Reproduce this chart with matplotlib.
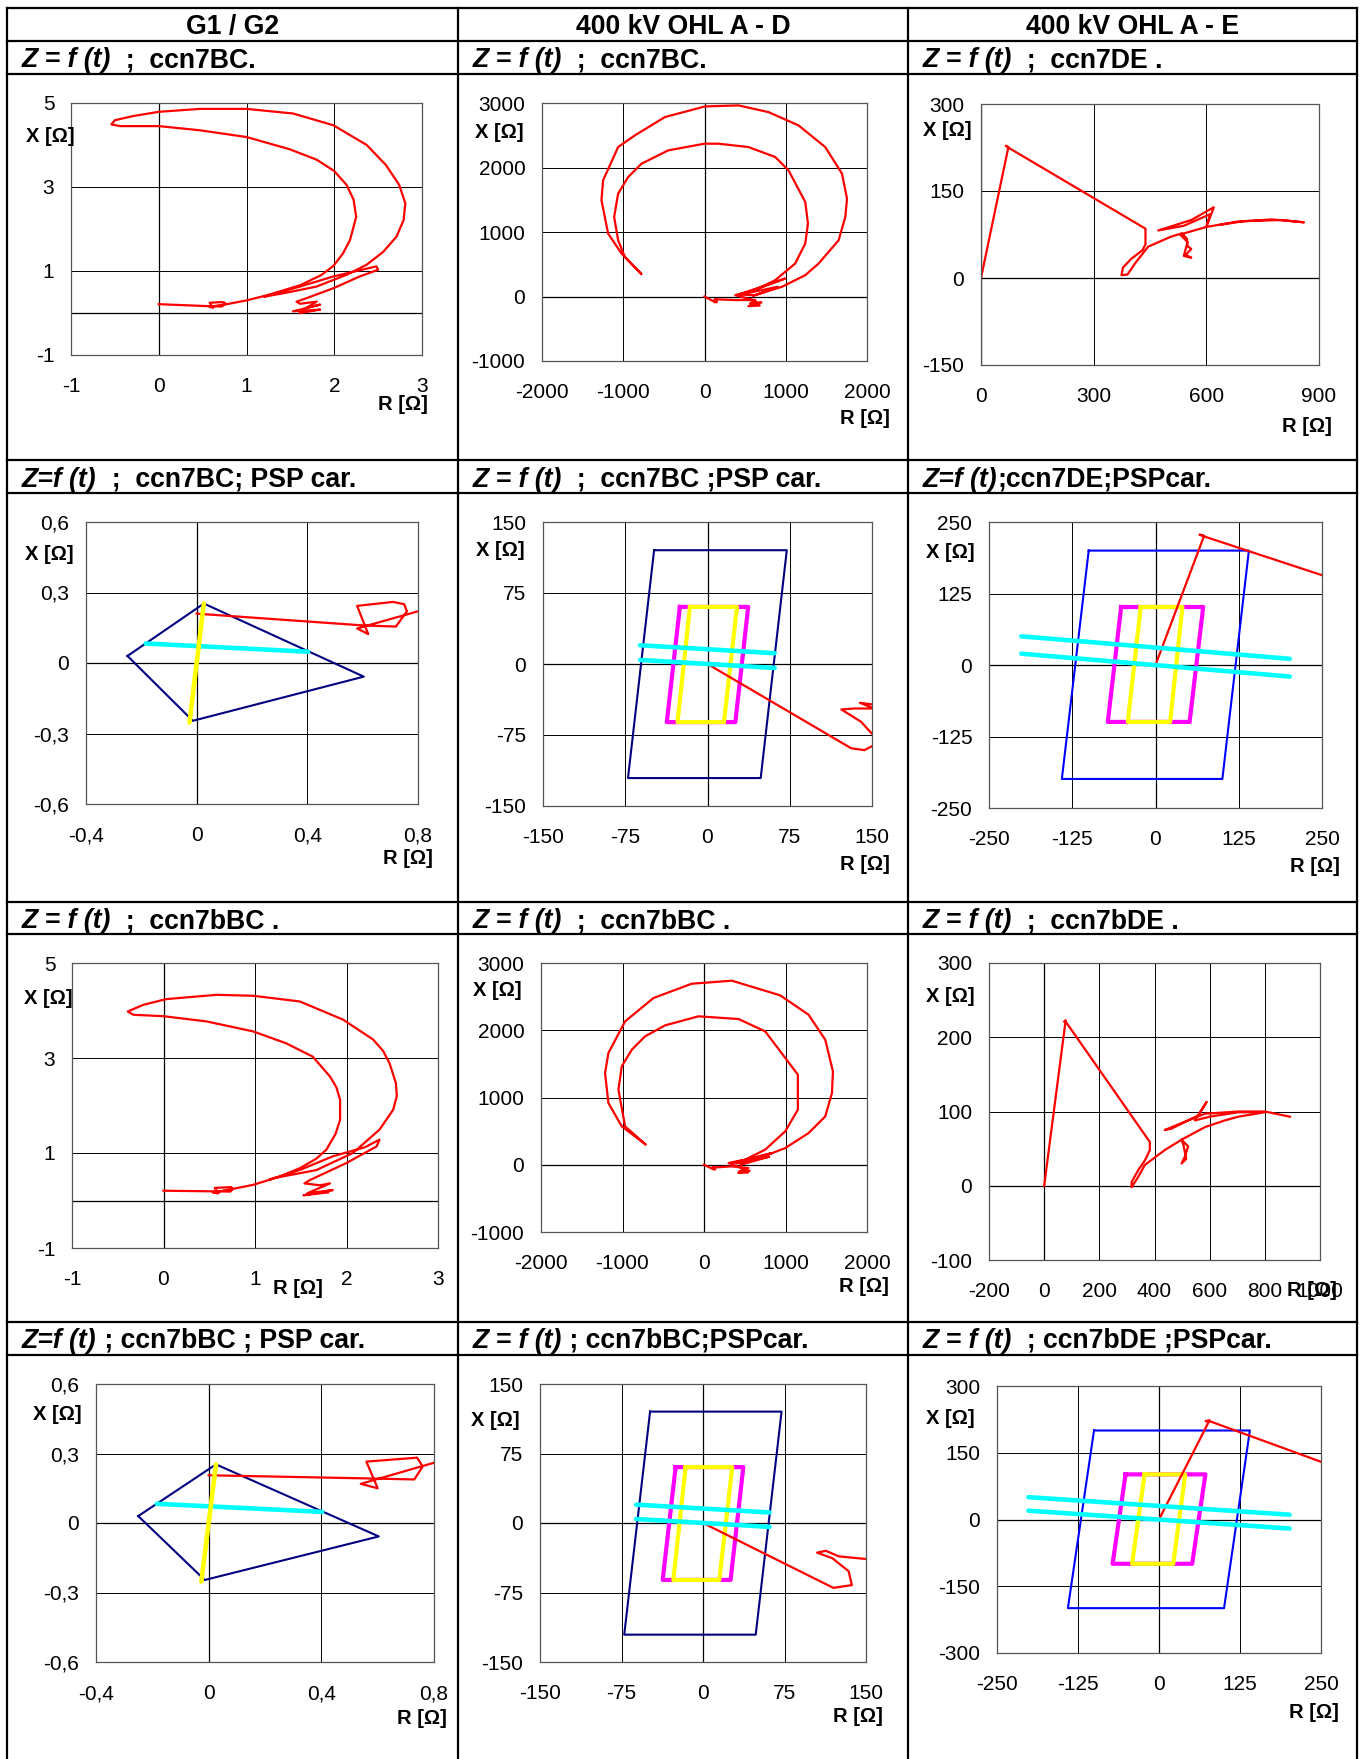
import matplotlib
matplotlib.use('Agg')
import matplotlib.pyplot as plt
from matplotlib.lines import Line2D

plt.rcParams['font.family'] = ['Liberation Sans', 'DejaVu Sans']

W, H = 1360, 1759
fig = plt.figure(figsize=(W / 100, H / 100), dpi=100)

# ---------------------------------------------------------------- data
col_headers = ["G1 / G2", "400 kV OHL A - D", "400 kV OHL A - E"]

sub_italic = [["Z = f (t)", "Z = f (t)", "Z = f (t)"],
              ["Z=f (t)", "Z = f (t)", "Z=f (t)"],
              ["Z = f (t)", "Z = f (t)", "Z = f (t)"],
              ["Z=f (t)", "Z = f (t)", "Z = f (t)"]]
sub_rest = [["  ;  ccn7BC.", "  ;  ccn7BC.", "  ;  ccn7DE ."],
            ["  ;  ccn7BC; PSP car.", "  ;  ccn7BC ;PSP car.", ";ccn7DE;PSPcar."],
            ["  ;  ccn7bBC .", "  ;  ccn7bBC .", "  ;  ccn7bDE ."],
            [" ; ccn7bBC ; PSP car.", " ; ccn7bBC;PSPcar.", "  ; ccn7bDE ;PSPcar."]]

# trajectories (R, X) in ohm
g_bc_R = [0.00, 0.30, 0.60, 0.72, 0.76, 0.75, 0.71, 0.58, 0.62, 0.58, 0.80, 1.00, 1.23, 1.61, 1.85,
          1.99, 2.10, 2.18, 2.25, 2.22, 2.14, 2.00, 1.80, 1.49, 1.00, 0.47, 0.00, -0.44, -0.54,
          -0.50, -0.29, 0.00, 0.47, 1.00, 1.53, 1.99, 2.37, 2.59, 2.74, 2.81, 2.79, 2.71, 2.56,
          2.37, 2.14, 1.80, 1.42, 1.20, 1.61, 1.99, 2.48, 2.50, 2.29, 1.99, 1.68, 1.57, 1.61,
          1.80, 1.68, 1.84, 1.53, 1.84, 1.61]
g_bc_X = [0.21, 0.185, 0.16, 0.155, 0.22, 0.25, 0.26, 0.243, 0.123, 0.147, 0.22, 0.30, 0.42, 0.66, 0.90,
          1.12, 1.42, 1.74, 2.29, 2.70, 3.05, 3.38, 3.65, 3.90, 4.19, 4.35, 4.45, 4.45, 4.49,
          4.59, 4.69, 4.79, 4.86, 4.86, 4.75, 4.47, 4.00, 3.52, 3.05, 2.61, 2.21, 1.82, 1.46,
          1.15, 0.91, 0.63, 0.47, 0.39, 0.63, 0.87, 1.11, 1.03, 0.87, 0.59, 0.35, 0.27, 0.22,
          0.27, 0.12, 0.20, 0.04, 0.08, 0.00]

g_bbc_R = [0.00, 0.54, 0.73, 0.76, 0.74, 0.56, 0.60, 0.54, 0.80, 0.98, 1.25, 1.49, 1.67, 1.78, 1.88,
           1.93, 1.93, 1.89, 1.82, 1.63, 1.34, 0.98, 0.47, 0.00, -0.33, -0.39, -0.22, 0.03, 0.58,
           0.98, 1.49, 1.96, 2.29, 2.40, 2.47, 2.54, 2.55, 2.51, 2.36, 2.07, 1.67, 1.20, 1.16, 1.50,
           1.85, 2.20, 2.36, 2.33, 2.00, 1.60, 1.54, 1.71, 1.82, 1.57, 1.85, 1.53, 1.80]
g_bbc_X = [0.206, 0.193, 0.188, 0.244, 0.282, 0.265, 0.150, 0.169, 0.26, 0.33, 0.49, 0.68, 0.88, 1.07, 1.40,
           1.70, 2.12, 2.38, 2.61, 3.03, 3.31, 3.56, 3.77, 3.88, 3.91, 3.98, 4.12, 4.24, 4.33,
           4.31, 4.19, 3.81, 3.39, 3.15, 2.89, 2.47, 2.20, 1.91, 1.49, 1.00, 0.64, 0.47, 0.44, 0.65,
           0.93, 1.12, 1.28, 1.14, 0.79, 0.43, 0.36, 0.32, 0.36, 0.15, 0.22, 0.11, 0.17]

ad_bc_R = [0, 131, 143, 153, 151, 140, 122, 134, 152, 139, 165, 380, 620, 560, 700, 540, 680, 620,
           377, 623, 870, 1116, 1240, 1273, 1240, 1034, 870, 541, 171, 0, -446, -775, -939, -1063,
           -1112, -1063, -980, -775, -1021, -1186, -1268, -1248, -1063, -857, -487, 6, 417, 787,
           1157, 1486, 1692, 1754, 1733, 1651, 1404, 1240, 952, 623, 420, 993, 500, 900, 600]
ad_bc_X = [0, -89, -91, -85, -75, -61, -48, -47, -47, -41, -45, -55, -55, -110, -90, -150, -140, -60,
           21, 98, 253, 511, 821, 1130, 1466, 1956, 2163, 2317, 2369, 2369, 2266, 2059, 1853, 1595,
           1234, 872, 614, 346, 666, 975, 1492, 1801, 2317, 2498, 2782, 2947, 2963, 2859,
           2653, 2317, 1905, 1517, 1234, 872, 511, 330, 150, 21, 30, 279, 46, 150, 10]

ad_bbc_R = [0, 120, 137, 134, 119, 105, 113, 125, 151, 342, 546, 430, 560, 420, 540, 480, 301, 506,
            751, 997, 1152, 1152, 751, 424, -68, -477, -723, -886, -1009, -1050, -968, -714, -1009,
            -1173, -1214, -1173, -968, -620, -150, 342, 935, 1283, 1488, 1582, 1570, 1488, 1283, 997,
            628, 342, 833, 400, 800, 450]
ad_bbc_X = [0, -70, -67, -52, -38, -32, -30, -36, -39, -24, -50, -100, -90, -120, -115, -60, 26, 76,
            225, 497, 819, 1339, 1983, 2167, 2207, 2073, 1909, 1711, 1463, 1116, 571, 299, 571,
            918, 1364, 1661, 2132, 2479, 2692, 2737, 2519, 2231, 1859, 1388, 1066, 719, 471, 248,
            76, 26, 174, 20, 120, 0]

ae_de_R = [0, 73, 66, 75, 438, 438, 430, 400, 378, 374, 390, 410, 445, 505, 535, 548, 550, 560, 545,
           560, 540, 550, 530, 600, 620, 560, 472, 540, 610, 600, 680, 775, 860, 800, 700, 640]
ae_de_X = [0, 226, 228, 224, 85, 58, 48, 33, 18, 5, 6, 25, 54, 71, 77, 68, 55, 50, 40,
           35, 38, 62, 75, 88, 122, 100, 82, 90, 110, 88, 97, 101, 96, 100, 98, 92]

ae_bde_R = [0, 78, 72, 80, 383, 383, 365, 341, 317, 317, 341, 365, 437, 498, 522, 510, 498, 515, 505,
            498, 583, 655, 704, 800, 704, 600, 546, 589, 560, 462, 437, 522, 583, 704, 800, 891]
ae_bde_X = [0, 223, 221, 220, 59, 48, 34, 21, 5, -2, 12, 28, 48, 62, 53, 39, 30, 36, 55,
            62, 79, 88, 93, 99, 99, 93, 88, 113, 95, 77, 75, 88, 97, 100, 100, 93]

# protection characteristics
g_quad_R = [-0.25, 0.026, 0.604, -0.014, -0.25]
g_quad_X = [0.03, 0.253, -0.058, -0.246, 0.03]
g_yel_R = [0.026, -0.026]
g_yel_X = [0.253, -0.253]
g_cyan_R = [-0.184, 0.403]
g_cyan_X = [0.083, 0.048]

ad_z2_R = [-48.7, 72.3, 48.5, -72.5, -48.7]
ad_z2_X = [120.2, 120.2, -120.5, -120.5, 120.2]
ad_mag_R = [-25.2, 37.1, 25.4, -37.1, -25.2]
ad_mag_X = [60.3, 60.3, -61.4, -61.4, 60.3]
ad_yel_R = [-16.0, 26.9, 15.0, -27.3, -16.0]
ad_yel_X = [60.3, 60.3, -61.4, -61.4, 60.3]
ad_cy1_R = [-61.5, 61.2]
ad_cy1_X = [19.8, 11.4]
ad_cy2_R = [-61.5, 61.2]
ad_cy2_X = [4.3, -4.2]

ae_z2_R = [-100.3, 140.2, 100.4, -140.6, -100.3]
ae_z2_X = [200.0, 200.0, -199.2, -199.2, 200.0]
ae_mag_R = [-51.6, 71.6, 51.2, -71.6, -51.6]
ae_mag_X = [101.4, 101.4, -99.5, -99.5, 101.4]
ae_yel_R = [-22.2, 40.4, 22.0, -41.6, -22.2]
ae_yel_X = [101.4, 101.4, -99.5, -99.5, 101.4]
ae_cy1_R = [-201.5, 201.5]
ae_cy1_X = [50.2, 10.8]
ae_cy2_R = [-201.5, 201.5]
ae_cy2_X = [19.8, -20.2]

# axis ticks
t_g_x = [-1, 0, 1, 2, 3];            t_g_y = [-1, 1, 3, 5]
t_ad_x = [-2000, -1000, 0, 1000, 2000]; t_ad_y = [-1000, 0, 1000, 2000, 3000]
t_ae_x = [0, 300, 600, 900];          t_ae_y = [-150, 0, 150, 300]
t_ae2_x = [-200, 0, 200, 400, 600, 800, 1000]; t_ae2_y = [-100, 0, 100, 200, 300]
t_gp_x = [-0.4, 0, 0.4, 0.8];         t_gp_y = [-0.6, -0.3, 0, 0.3, 0.6]
l_gp_x = ["-0,4", "0", "0,4", "0,8"];  l_gp_y = ["-0,6", "-0,3", "0", "0,3", "0,6"]
t_adp = [-150, -75, 0, 75, 150]
t_aep = [-250, -125, 0, 125, 250]
t_aep2_y = [-300, -150, 0, 150, 300]

# ---------------------------------------------------------------- layout helpers
def fx(x):
    return x / W


def fy(y):
    return 1 - y / H


def hline(y, x0=7, x1=1357):
    fig.add_artist(Line2D([fx(x0), fx(x1)], [fy(y), fy(y)], color='black', lw=1.6,
                          transform=fig.transFigure))


def vline(x, y0=8, y1=1759):
    fig.add_artist(Line2D([fx(x), fx(x)], [fy(y0), fy(y1)], color='black', lw=1.6,
                          transform=fig.transFigure))


for y in [8, 41, 74, 460, 493, 902, 934, 1322, 1355]:
    hline(y)
for x in [7, 458, 908, 1357]:
    vline(x)

TFS = 19.2
col_x = [7, 458, 908, 1357]
for i, h in enumerate(col_headers):
    fig.text(fx((col_x[i] + col_x[i + 1]) / 2), fy(34), h, ha='center', va='baseline',
             fontsize=TFS, fontweight='bold')

renderer = fig.canvas.get_renderer()
sub_base = [67, 487, 928, 1348]
sub_x = [22, 473, 923]
for r in range(4):
    for c in range(3):
        t1 = fig.text(fx(sub_x[c]), fy(sub_base[r]), sub_italic[r][c], ha='left', va='baseline',
                      fontsize=TFS, fontweight='bold', fontstyle='italic')
        bb = t1.get_window_extent(renderer=renderer)
        fig.text(bb.x1 / W, fy(sub_base[r]), sub_rest[r][c], ha='left', va='baseline',
                 fontsize=TFS, fontweight='bold')


def make_ax(box, xlim, ylim, xt, yt, xl=None, yl=None, xlab=(0, 0), ylab=(0, 0)):
    l, t, r, b = box
    ax = fig.add_axes([fx(l), fy(b), (r - l) / W, (b - t) / H])
    ax.set_xlim(*xlim)
    ax.set_ylim(*ylim)
    ax.set_xticks(xt)
    ax.set_yticks(yt)
    ax.set_xticklabels(xl if xl is not None else [str(v) for v in xt])
    ax.set_yticklabels(yl if yl is not None else [str(v) for v in yt])
    ax.tick_params(axis='x', length=0, pad=16, labelsize=15)
    ax.tick_params(axis='y', length=0, pad=12, labelsize=15)
    ax.grid(True, color='black', lw=0.7)
    ax.set_axisbelow(True)
    for s in ax.spines.values():
        s.set_color('#555555')
        s.set_linewidth(0.9)
    ax.axhline(0, color='black', lw=0.9, zorder=0.5)
    ax.axvline(0, color='black', lw=0.9, zorder=0.5)
    fig.text(fx(ylab[0]), fy(ylab[1]), "X [Ω]", ha='center', va='center', fontsize=14.5,
             fontweight='bold')
    fig.text(fx(xlab[0]), fy(xlab[1]), "R [Ω]", ha='center', va='center', fontsize=14.5,
             fontweight='bold')
    return ax


RED = dict(color='#FF0000', lw=1.6)

# Row 1
ax = make_ax((71, 103, 422, 355), (-1, 3), (-1, 5), t_g_x, t_g_y, xlab=(403, 405), ylab=(50, 137))
ax.plot(g_bc_R, g_bc_X, **RED)
ax = make_ax((542, 103, 867, 361), (-2000, 2000), (-1000, 3000), t_ad_x, t_ad_y,
             xlab=(865, 418), ylab=(499, 133))
ax.plot(ad_bc_R, ad_bc_X, **RED)
ax = make_ax((981, 104, 1319, 365), (0, 900), (-150, 300), t_ae_x, t_ae_y,
             xlab=(1307, 427), ylab=(947, 130))
ax.plot(ae_de_R, ae_de_X, **RED)

# Row 2
ax = make_ax((86, 522, 418, 804), (-0.4, 0.8), (-0.6, 0.6), t_gp_x, t_gp_y, l_gp_x, l_gp_y,
             xlab=(408, 859), ylab=(49, 555))
ax.plot(g_quad_R, g_quad_X, color='#000080', lw=1.5)
ax.plot(g_bc_R, g_bc_X, **RED)
ax.plot(g_cyan_R, g_cyan_X, color='#00FFFF', lw=3.3, solid_capstyle='round')
ax.plot(g_yel_R, g_yel_X, color='#FFFF00', lw=3.3, solid_capstyle='round')

ax = make_ax((543, 522, 872, 806), (-150, 150), (-150, 150), t_adp, t_adp,
             xlab=(865, 865), ylab=(500, 550))
ax.plot(ad_z2_R, ad_z2_X, color='#000080', lw=1.5)
ax.plot(ad_mag_R, ad_mag_X, color='#FF00FF', lw=3.0)
ax.plot(ad_yel_R, ad_yel_X, color='#FFFF00', lw=3.0)
ax.plot(ad_bc_R, ad_bc_X, **RED)
ax.plot(ad_cy1_R, ad_cy1_X, color='#00FFFF', lw=3.3, solid_capstyle='round')
ax.plot(ad_cy2_R, ad_cy2_X, color='#00FFFF', lw=3.3, solid_capstyle='round')

ax = make_ax((989, 522, 1322, 808), (-250, 250), (-250, 250), t_aep, t_aep,
             xlab=(1315, 867), ylab=(950, 553))
ax.plot(ae_z2_R, ae_z2_X, color='#0000FF', lw=1.5)
ax.plot(ae_mag_R, ae_mag_X, color='#FF00FF', lw=3.0)
ax.plot(ae_yel_R, ae_yel_X, color='#FFFF00', lw=3.0)
ax.plot(ae_de_R, ae_de_X, **RED)
ax.plot(ae_cy1_R, ae_cy1_X, color='#00FFFF', lw=3.3, solid_capstyle='round')
ax.plot(ae_cy2_R, ae_cy2_X, color='#00FFFF', lw=3.3, solid_capstyle='round')

# Row 3
ax = make_ax((72, 963, 438, 1248), (-1, 3), (-1, 5), t_g_x, t_g_y, xlab=(298, 1288), ylab=(48, 998))
ax.plot(g_bbc_R, g_bbc_X, **RED)
ax = make_ax((541, 963, 867, 1232), (-2000, 2000), (-1000, 3000), t_ad_x, t_ad_y,
             xlab=(864, 1287), ylab=(497, 991))
ax.plot(ad_bbc_R, ad_bbc_X, **RED)
ax = make_ax((989, 963, 1320, 1260), (-200, 1000), (-100, 300), t_ae2_x, t_ae2_y,
             xlab=(1312, 1290), ylab=(950, 997))
ax.plot(ae_bde_R, ae_bde_X, **RED)

# Row 4
ax = make_ax((96, 1384, 434, 1662), (-0.4, 0.8), (-0.6, 0.6), t_gp_x, t_gp_y, l_gp_x, l_gp_y,
             xlab=(422, 1719), ylab=(57, 1415))
ax.plot(g_quad_R, g_quad_X, color='#000080', lw=1.5)
ax.plot(g_bbc_R, g_bbc_X, **RED)
ax.plot(g_cyan_R, g_cyan_X, color='#00FFFF', lw=3.3, solid_capstyle='round')
ax.plot(g_yel_R, g_yel_X, color='#FFFF00', lw=3.3, solid_capstyle='round')

ax = make_ax((540, 1384, 866, 1662), (-150, 150), (-150, 150), t_adp, t_adp,
             xlab=(858, 1717), ylab=(495, 1420))
ax.plot(ad_z2_R, ad_z2_X, color='#000080', lw=1.5)
ax.plot(ad_mag_R, ad_mag_X, color='#FF00FF', lw=3.0)
ax.plot(ad_yel_R, ad_yel_X, color='#FFFF00', lw=3.0)
ax.plot(ad_bbc_R, ad_bbc_X, **RED)
ax.plot(ad_cy1_R, ad_cy1_X, color='#00FFFF', lw=3.3, solid_capstyle='round')
ax.plot(ad_cy2_R, ad_cy2_X, color='#00FFFF', lw=3.3, solid_capstyle='round')

ax = make_ax((997, 1386, 1321, 1653), (-250, 250), (-300, 300), t_aep, t_aep2_y,
             xlab=(1314, 1713), ylab=(950, 1418))
ax.plot(ae_z2_R, ae_z2_X, color='#0000FF', lw=1.5)
ax.plot(ae_mag_R, ae_mag_X, color='#FF00FF', lw=3.0)
ax.plot(ae_yel_R, ae_yel_X, color='#FFFF00', lw=3.0)
ax.plot(ae_bde_R, ae_bde_X, **RED)
ax.plot(ae_cy1_R, ae_cy1_X, color='#00FFFF', lw=3.3, solid_capstyle='round')
ax.plot(ae_cy2_R, ae_cy2_X, color='#00FFFF', lw=3.3, solid_capstyle='round')

fig.savefig('out.png', dpi=100)
